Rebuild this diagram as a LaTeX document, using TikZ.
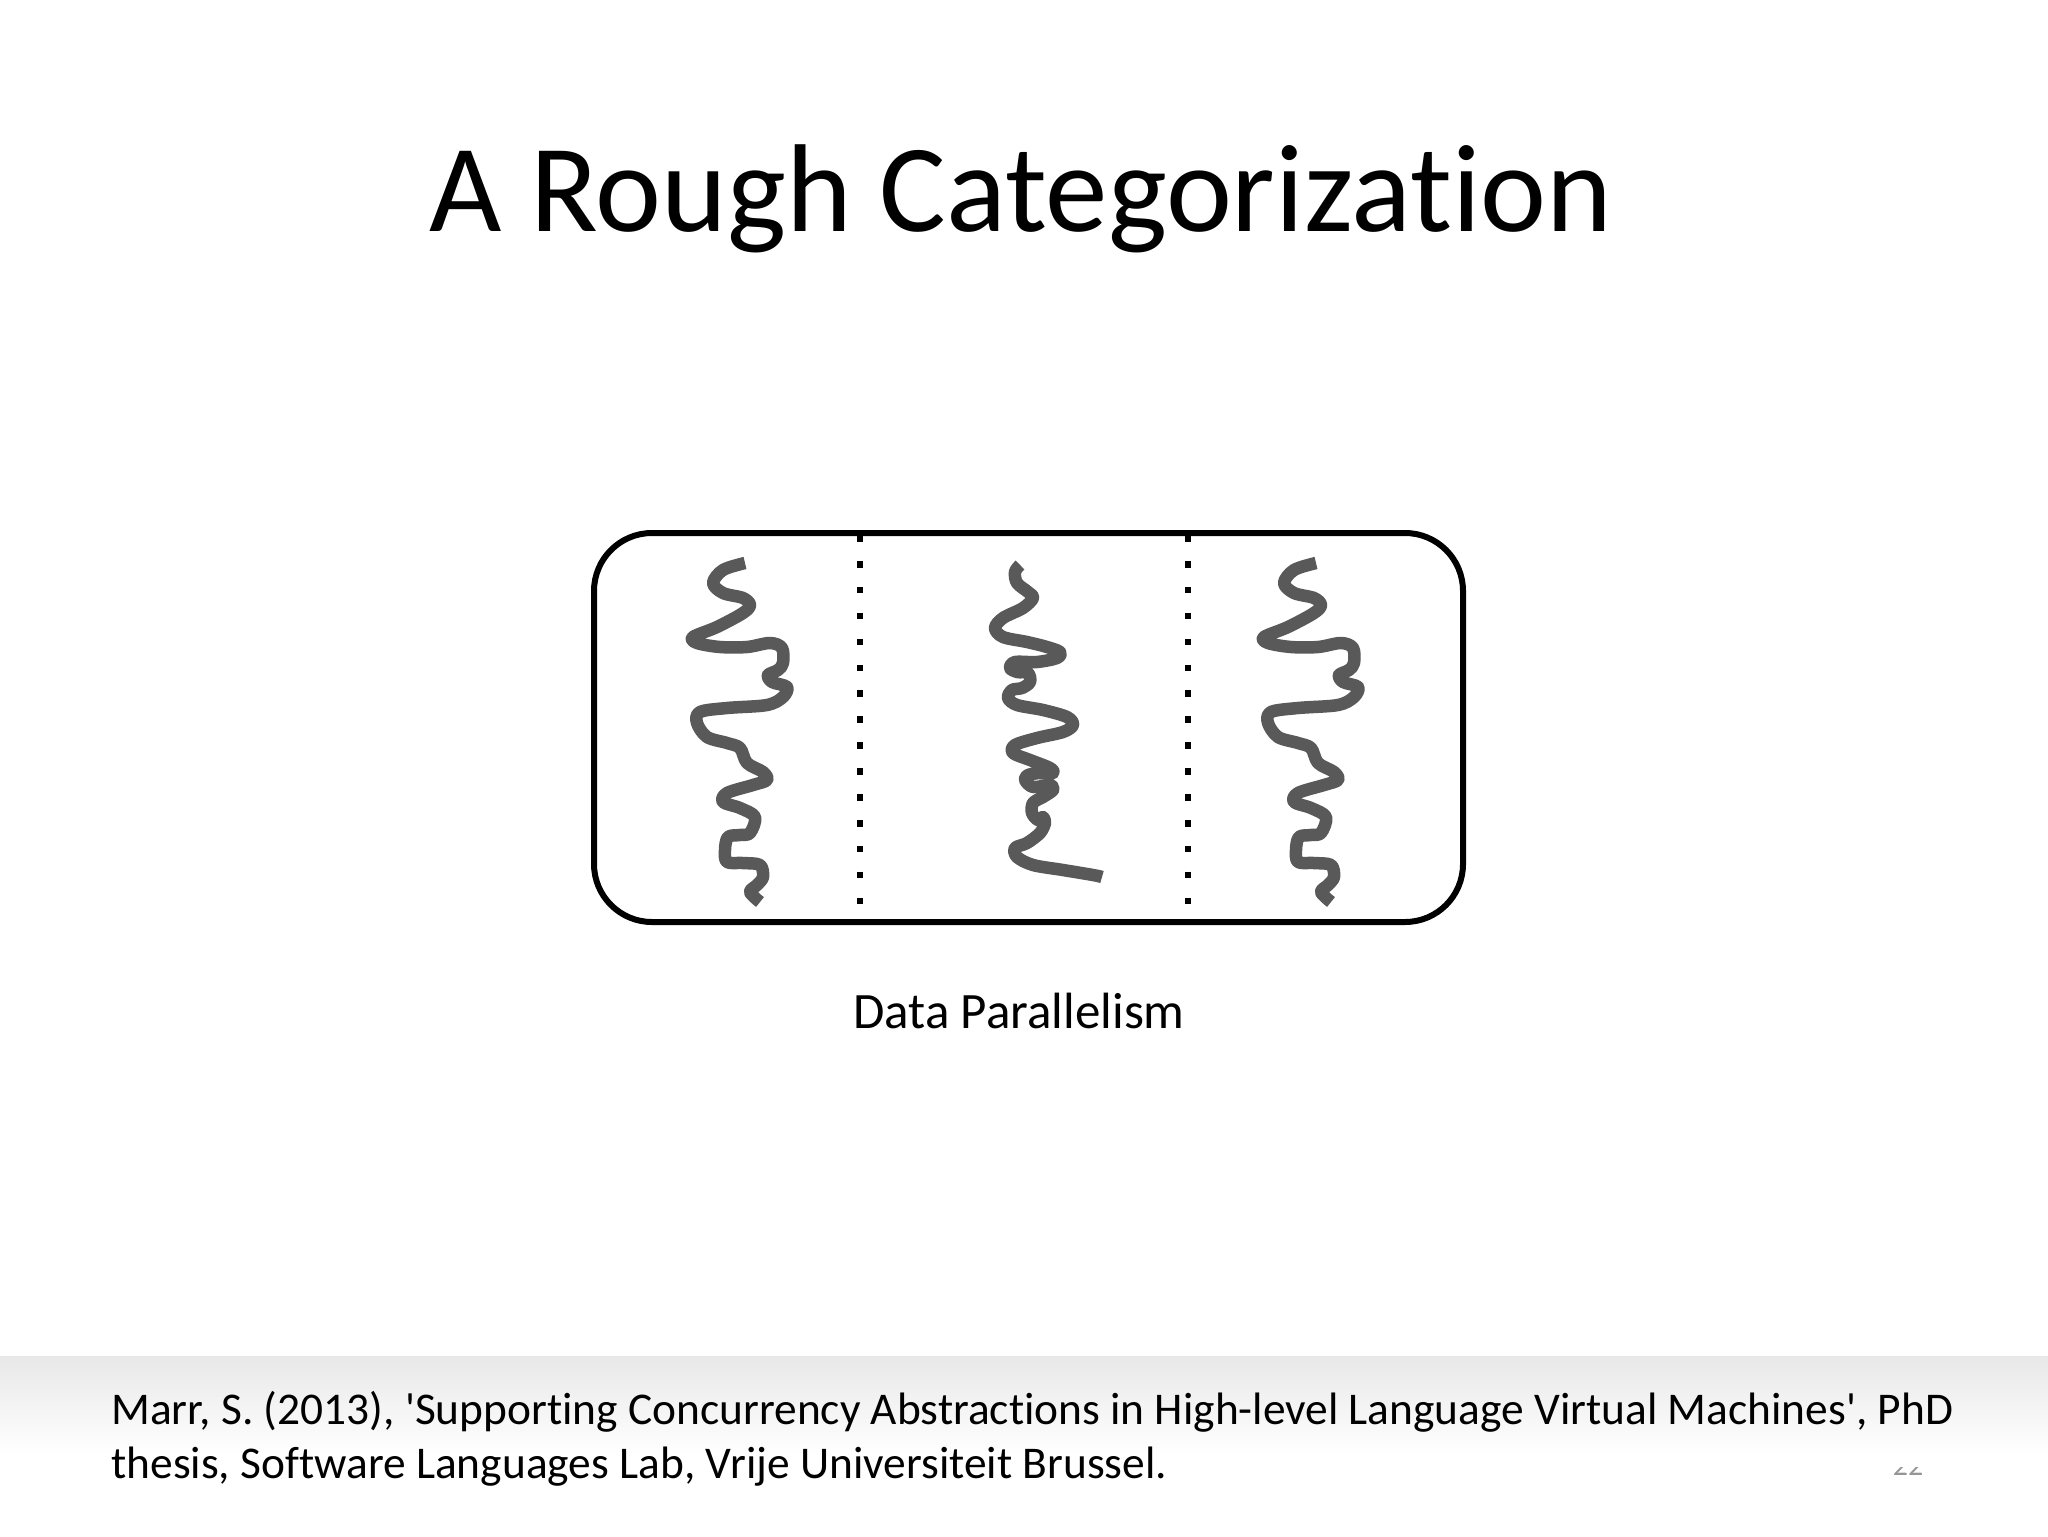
\documentclass[tikz,border=0pt]{standalone}
\usepackage{fontspec}
\setmainfont{Carlito}[Ligatures={TeXOff,NoCommon}]
\definecolor{threadgray}{RGB}{89,89,89}
\definecolor{pagegray}{RGB}{150,150,150}

\begin{document}
\begin{tikzpicture}[x=0.5pt, y=-0.5pt,
  thread/.style={draw=threadgray, line width=6.25pt, line join=round},
  divider/.style={dash pattern=on 3.3pt off 9.65pt, line width=3.3pt}]
  \useasboundingbox[fill=white] (0,0) rectangle (2048,1536);
  \pgfmathsetmacro{\colA}{860}
  \pgfmathsetmacro{\colB}{1188}
  % title
  \node[anchor=base, font=\fontsize{62.5}{72}\selectfont] (title) at (1021,231) {A Rough Categorization};
  % box with the three threads
  \draw[line width=3pt, rounded corners=29pt] (594,533) rectangle (1463,922);
  \foreach \c in {\colA,\colB} {
    \draw[divider] (\c,535) -- (\c,906);
  }
  \foreach \dx in {0,571} {
    \draw[thread, shift={(\dx,0)}] plot[smooth, tension=0.55] coordinates {
      (745,563) (723,570) (713,583) (723,593) (743,598) (750,605) (743,613)
      (717,627) (693,637) (697,643) (720,647) (747,647) (770,643) (782,648)
      (783,663) (778,670) (768,675) (772,682) (787,687) (783,697) (767,705)
      (727,708) (700,712) (697,723) (707,737) (727,743) (740,748) (747,763)
      (763,772) (767,780) (753,785) (727,793) (723,802) (740,808) (755,817)
      (750,833) (740,835) (728,837) (725,850) (727,862) (743,863) (760,865)
      (763,877) (757,885) (750,892) (760,902)};
  }
  \draw[thread] plot[smooth, tension=0.55] coordinates {
    (1020,565) (1015,572) (1017,583) (1028,592) (1033,598) (1023,608)
    (1003,618) (995,628) (1003,637) (1027,642) (1047,647) (1060,652)
    (1057,658) (1037,662) (1015,662) (1010,668) (1017,672) (1028,673)
    (1030,682) (1022,688) (1012,690) (1008,698) (1017,705) (1043,710)
    (1067,717) (1073,725) (1063,732) (1037,738) (1015,745) (1013,753)
    (1030,760) (1050,768) (1053,773) (1040,773) (1028,775) (1025,780)
    (1033,787) (1050,785) (1053,790) (1043,797) (1033,803) (1032,813)
    (1038,820) (1043,817) (1045,823) (1040,833) (1027,843) (1015,848)
    (1017,857) (1033,865) (1063,870) (1093,875) (1102,877)};
  \node[anchor=base, font=\fontsize{25.5}{30}\selectfont] (caption) at (1019,1028) {Data Parallelism};
  % footer band
  \shade[top color=gray!18, bottom color=white] (0,1356) rectangle (2048,1455);
  \node[anchor=base west, inner sep=0pt, font=\fontsize{22.7}{27}\selectfont] (citeA) at (111,1424)
    {Marr, S. (2013), 'Supporting Concurrency Abstractions in High-level Language Virtual Machines', PhD};
  \node[anchor=base west, inner sep=0pt, font=\fontsize{22.7}{27}\selectfont] (citeB) at (111,1478)
    {thesis, Software Languages Lab, Vrije Universiteit Brussel.};
  \begin{scope}
    \clip (1870,1467) rectangle (1950,1482);
    \node[anchor=base, inner sep=0pt, text=pagegray, font=\fontsize{15}{18}\selectfont] (pagenum) at (1908,1475) {22};
  \end{scope}
\end{tikzpicture}
\end{document}
